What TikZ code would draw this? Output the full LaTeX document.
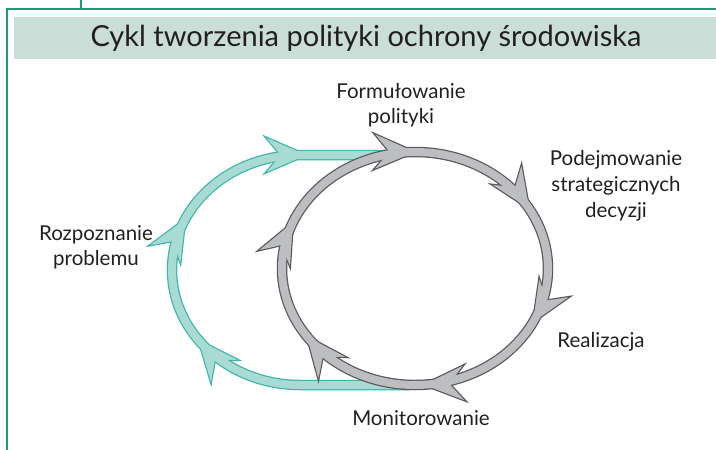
\documentclass[tikz,border=0pt]{standalone}
\usepackage{fontspec}
\setmainfont{Lato}
\usetikzlibrary{decorations.markings}
\definecolor{frameg}{HTML}{1F9A77}
\definecolor{titlebg}{HTML}{CADDD6}
\definecolor{greyfill}{HTML}{BDBEC1}
\definecolor{greyline}{HTML}{5A5A5C}
\definecolor{tealfill}{HTML}{A8DBD4}
\definecolor{tealline}{HTML}{3DB6AA}
\definecolor{txt}{HTML}{231F20}
\newcommand\ahead[2]{\filldraw[fill=#1,draw=#2,line width=1.1pt,line join=miter] (0,0) -- (-44,19) -- (-28,0) -- (-44,-19) -- cycle;}
\tikzset{
  lbl/.style={font=\fontsize{20.5}{25}\selectfont, text=txt, anchor=base, inner sep=0pt},
  bandout/.style={line width=10.5pt},
  bandin/.style={line width=8pt},
  greyheads/.style={decoration={markings,
     mark=at position 0.074 with {\ahead{greyfill}{greyline}},
     mark=at position 0.241 with {\ahead{greyfill}{greyline}},
     mark=at position 0.408 with {\ahead{greyfill}{greyline}},
     mark=at position 0.563 with {\ahead{greyfill}{greyline}},
     mark=at position 0.752 with {\ahead{greyfill}{greyline}},
     mark=at position 0.921 with {\ahead{greyfill}{greyline}}}, decorate},
  tealheads/.style={decoration={markings,
     mark=at position 226pt with {\ahead{tealfill}{tealline}},
     mark=at position 356pt with {\ahead{tealfill}{tealline}},
     mark=at position 500pt with {\ahead{tealfill}{tealline}}}, decorate}
}
\begin{document}
\begin{tikzpicture}[x=1pt,y=-1pt]
\useasboundingbox (0,0) rectangle (716,450);
% frame
\draw[frameg, line width=2pt] (6.5,451) -- (6.5,9) -- (717,9);
\draw[frameg, line width=2pt] (81,-1) -- (81,9);
% title band
\fill[titlebg] (14,17) rectangle (716,59);
\node[font=\fontsize{29}{33}\selectfont, text=txt, inner sep=0pt] (title) at (366,38) {Cykl tworzenia polityki ochrony środowiska};
% teal path
\coordinate (tb) at (410,385);
\coordinate (tt) at (398,155);
\draw[tealline, bandout] (tb) -- (300,385) arc[start angle=90,end angle=270,x radius=128,y radius=115] -- (tt);
\path[tealheads] (tb) -- (300,385) arc[start angle=90,end angle=270,x radius=128,y radius=115] -- (tt);
\draw[tealfill, bandin] (tb) -- (300,385) arc[start angle=90,end angle=270,x radius=128,y radius=115] -- (tt);
% grey ring
\coordinate (gr) at (548,268.5);
\draw[greyline, bandout] (gr) arc[start angle=0,end angle=360,x radius=133,y radius=116.5] -- cycle;
\path[greyheads] (gr) arc[start angle=0,end angle=360,x radius=133,y radius=116.5];
\draw[greyfill, bandin] (gr) arc[start angle=0,end angle=360,x radius=133,y radius=116.5] -- cycle;
% labels
\node[lbl] (form1) at (401,98) {Formułowanie};
\node[lbl] (form2) at (401,123) {polityki};
\node[lbl] (pod1) at (616,165) {Podejmowanie};
\node[lbl] (pod2) at (616,191) {strategicznych};
\node[lbl] (pod3) at (616,217) {decyzji};
\node[lbl] (roz1) at (96,240) {Rozpoznanie};
\node[lbl] (roz2) at (96,265) {problemu};
\node[lbl] (real) at (601,347) {Realizacja};
\node[lbl] (mon) at (421,425) {Monitorowanie};
\end{tikzpicture}
\end{document}
